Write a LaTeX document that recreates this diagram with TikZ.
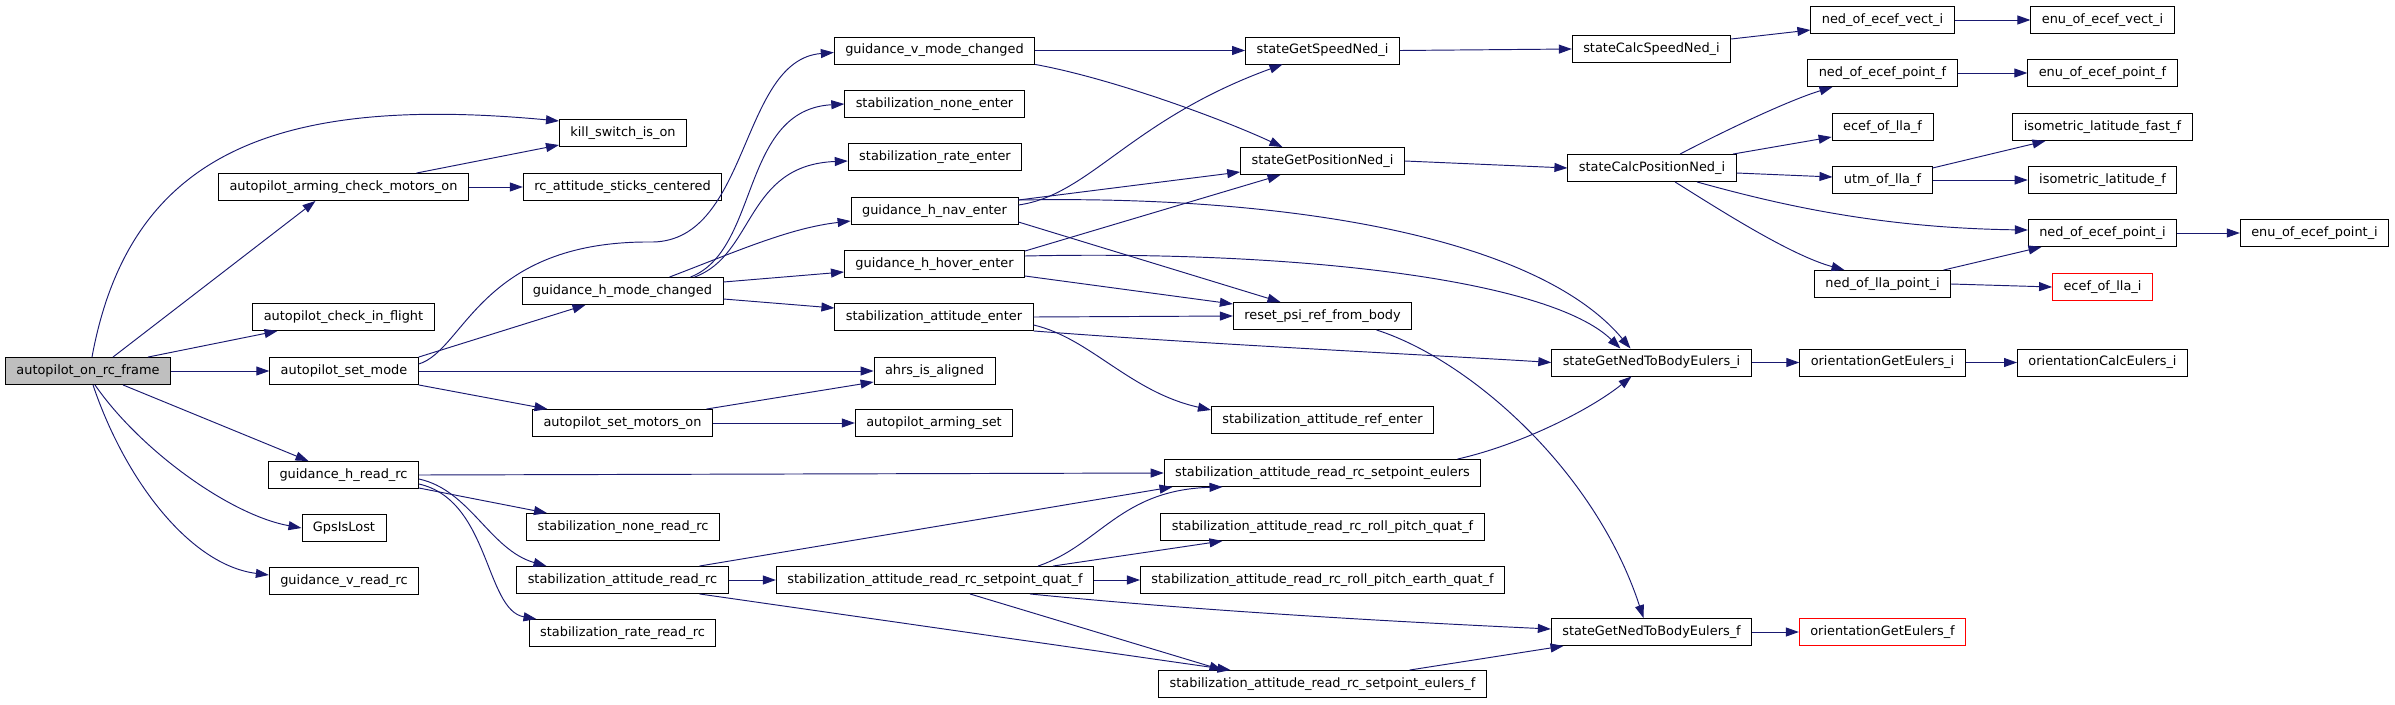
\documentclass[tikz,border=0pt]{standalone}
\usepackage{fontspec}
\setmainfont{DejaVu Sans}
\usetikzlibrary{arrows.meta}
\definecolor{midnight}{HTML}{191970}
\definecolor{rootgray}{HTML}{BFBFBF}
\definecolor{alert}{HTML}{FF0000}
\tikzset{
  fnbox/.style={draw=black,fill=white,line width=0.9pt,inner xsep=11pt,inner ysep=0pt,minimum height=27pt,font=\fontsize{12.9pt}{15pt}\selectfont},
  rootbox/.style={fnbox,fill=rootgray},
  extbox/.style={fnbox,draw=alert},
  call/.style={-{Triangle[length=13pt,width=9pt]},line width=0.95pt,draw=midnight}
}

\begin{document}
\begin{tikzpicture}[x=1pt,y=-1pt]
  \useasboundingbox (0,0) rectangle (2395,704);

  \node[rootbox] (root) at (88,371) {autopilot\_on\_rc\_frame};

  \node[fnbox] (armchk) at (343.5,187) {autopilot\_arming\_check\_motors\_on};
  \node[fnbox] (inflight) at (343.5,317) {autopilot\_check\_in\_flight};
  \node[fnbox] (setmode) at (344,371) {autopilot\_set\_mode};
  \node[fnbox] (hreadrc) at (343.5,475) {guidance\_h\_read\_rc};
  \node[fnbox] (gpslost) at (344,528) {GpsIsLost};
  \node[fnbox] (vreadrc) at (344,581) {guidance\_v\_read\_rc};

  \node[fnbox] (kill) at (623,133) {kill\_switch\_is\_on};
  \node[fnbox] (sticks) at (622.5,187) {rc\_attitude\_sticks\_centered};
  \node[fnbox] (hmode) at (622.5,291) {guidance\_h\_mode\_changed};
  \node[fnbox] (motorson) at (622.5,423) {autopilot\_set\_motors\_on};
  \node[fnbox] (noneread) at (623,527) {stabilization\_none\_read\_rc};
  \node[fnbox] (attread) at (622.5,580) {stabilization\_attitude\_read\_rc};
  \node[fnbox] (rateread) at (622.5,633) {stabilization\_rate\_read\_rc};

  \node[fnbox] (vmode) at (934.5,50.5) {guidance\_v\_mode\_changed};
  \node[fnbox] (noneenter) at (934.5,104) {stabilization\_none\_enter};
  \node[fnbox] (rateenter) at (935,157) {stabilization\_rate\_enter};
  \node[fnbox] (naventer) at (934.5,211) {guidance\_h\_nav\_enter};
  \node[fnbox] (hoverenter) at (934.5,264) {guidance\_h\_hover\_enter};
  \node[fnbox] (attenter) at (934,317) {stabilization\_attitude\_enter};
  \node[fnbox] (ahrs) at (934.5,371) {ahrs\_is\_aligned};
  \node[fnbox] (armset) at (934,423) {autopilot\_arming\_set};
  \node[fnbox] (quatf) at (935,580) {stabilization\_attitude\_read\_rc\_setpoint\_quat\_f};

  \node[fnbox] (speedned) at (1322.5,50.5) {stateGetSpeedNed\_i};
  \node[fnbox] (posned) at (1322.5,161) {stateGetPositionNed\_i};
  \node[fnbox] (resetpsi) at (1322.5,316) {reset\_psi\_ref\_from\_body};
  \node[fnbox] (attrefenter) at (1322.5,420) {stabilization\_attitude\_ref\_enter};
  \node[fnbox] (eulers) at (1322.5,473) {stabilization\_attitude\_read\_rc\_setpoint\_eulers};
  \node[fnbox] (rpquat) at (1322.5,527) {stabilization\_attitude\_read\_rc\_roll\_pitch\_quat\_f};
  \node[fnbox] (rpearth) at (1322.5,580) {stabilization\_attitude\_read\_rc\_roll\_pitch\_earth\_quat\_f};
  \node[fnbox] (eulersf) at (1322.5,684) {stabilization\_attitude\_read\_rc\_setpoint\_eulers\_f};

  \node[fnbox] (calcspeed) at (1651.5,49) {stateCalcSpeedNed\_i};
  \node[fnbox] (calcpos) at (1652,168) {stateCalcPositionNed\_i};
  \node[fnbox] (n2bei) at (1651.5,362.5) {stateGetNedToBodyEulers\_i};
  \node[fnbox] (n2bef) at (1651.5,632) {stateGetNedToBodyEulers\_f};

  \node[fnbox] (nedvect) at (1882.5,20) {ned\_of\_ecef\_vect\_i};
  \node[fnbox] (nedpointf) at (1882.5,73) {ned\_of\_ecef\_point\_f};
  \node[fnbox] (eceff) at (1882.5,127) {ecef\_of\_lla\_f};
  \node[fnbox] (utm) at (1882.5,180) {utm\_of\_lla\_f};
  \node[fnbox] (nedlla) at (1882.5,284) {ned\_of\_lla\_point\_i};
  \node[fnbox] (orienti) at (1882.5,362.5) {orientationGetEulers\_i};
  \node[extbox] (orientf) at (1882.5,632) {orientationGetEulers\_f};

  \node[fnbox] (enuvect) at (2102.5,20) {enu\_of\_ecef\_vect\_i};
  \node[fnbox] (enupointf) at (2102.5,73) {enu\_of\_ecef\_point\_f};
  \node[fnbox] (isofast) at (2102.5,127) {isometric\_latitude\_fast\_f};
  \node[fnbox] (iso) at (2102.5,180) {isometric\_latitude\_f};
  \node[fnbox] (nedpointi) at (2102.5,233) {ned\_of\_ecef\_point\_i};
  \node[extbox] (ecefi) at (2102.5,287) {ecef\_of\_lla\_i};
  \node[fnbox] (calceul) at (2102.5,362.5) {orientationCalcEulers\_i};

  \node[fnbox] (enupointi) at (2314.5,233) {enu\_of\_ecef\_point\_i};

  \draw[call] ([xshift=4pt]root.north) .. controls (130,150) and (280,95) .. ([yshift=12pt]kill.west);
  \draw[call] ([xshift=25pt]root.north) -- ([xshift=-28pt]armchk.south);
  \draw[call] ([xshift=60pt]root.north) -- ([xshift=-66pt]inflight.south);
  \draw[call] (root.east) -- (setmode.west);
  \draw[call] ([xshift=35pt]root.south) -- ([xshift=-35pt]hreadrc.north);
  \draw[call] ([xshift=7pt]root.south) .. controls (140,450) and (230,515) .. (gpslost.west);
  \draw[call] ([xshift=5pt]root.south) .. controls (125,480) and (190,565) .. ([yshift=6pt]vreadrc.west);

  \draw[call] ([xshift=73pt]armchk.north) -- ([yshift=-12pt]kill.west);
  \draw[call] (armchk.east) -- (sticks.west);

  \draw[call] (setmode.north east) -- ([xshift=-37pt]hmode.south);
  \draw[call] ([yshift=7pt]setmode.east) .. controls (465,350) and (480,240) .. (653,242)
    .. controls (750,240) and (740,60) .. ([yshift=-2pt]vmode.west);
  \draw[call] (setmode.east) -- (ahrs.west);
  \draw[call] (setmode.south east) -- ([xshift=-75pt]motorson.north);
  \draw[call] ([xshift=84pt]motorson.north) -- ([yshift=-11pt]ahrs.west);
  \draw[call] (motorson.east) -- (armset.west);

  \draw[call] ([xshift=68pt]hmode.north) .. controls (760,250) and (740,110) .. (noneenter.west);
  \draw[call] ([xshift=72pt]hmode.north) .. controls (755,255) and (745,165) .. ([yshift=-4pt]rateenter.west);
  \draw[call] ([xshift=47pt]hmode.north) .. controls (740,250) and (790,228) .. ([yshift=-10pt]naventer.west);
  \draw[call] ([yshift=9pt]hmode.east) -- ([yshift=-8pt]hoverenter.west);
  \draw[call] ([yshift=-8pt]hmode.east) -- ([yshift=9pt]attenter.west);

  \draw[call] (vmode.east) -- (speedned.west);
  \draw[call] (vmode.south east) .. controls (1110,78) and (1220,118) .. ([xshift=-40pt]posned.north);

  \draw[call] ([yshift=6pt]naventer.east) .. controls (1090,195) and (1130,120) .. ([xshift=-40pt]speedned.south);
  \draw[call] ([yshift=11pt]naventer.east) -- ([yshift=-11pt]posned.west);
  \draw[call] ([yshift=11pt]naventer.east) .. controls (1300,195) and (1540,240) .. ([xshift=-21pt]n2bei.north);
  \draw[call] ([yshift=-11pt]naventer.east) -- ([xshift=-42pt]resetpsi.north);

  \draw[call] ([yshift=13pt]hoverenter.east) -- ([xshift=-42pt]posned.south);
  \draw[call] ([yshift=8pt]hoverenter.east) .. controls (1300,250) and (1550,280) .. ([xshift=-31pt]n2bei.north);
  \draw[call] ([yshift=-12pt]hoverenter.east) -- ([yshift=12pt]resetpsi.west);

  \draw[call] (attenter.east) -- (resetpsi.west);
  \draw[call] (attenter.south east) .. controls (1200,344) and (1450,356) .. (n2bei.west);
  \draw[call] ([yshift=-8pt]attenter.east) .. controls (1090,338) and (1130,392) .. ([yshift=10pt]attrefenter.west);

  \draw[call] ([xshift=54pt]resetpsi.south) .. controls (1470,360) and (1595,470) .. ([xshift=-8pt]n2bef.north);

  \draw[call] (speedned.east) -- (calcspeed.west);
  \draw[call] (posned.east) -- (calcpos.west);
  \draw[call] ([yshift=10pt]calcspeed.east) -- ([yshift=-10pt]nedvect.west);
  \draw[call] (nedvect.east) -- (enuvect.west);

  \draw[call] ([xshift=28pt]calcpos.north) .. controls (1730,128) and (1790,100) .. ([xshift=-50pt]nedpointf.south);
  \draw[call] ([xshift=81pt]calcpos.north) -- ([yshift=-10pt]eceff.west);
  \draw[call] ([yshift=-5pt]calcpos.east) -- ([yshift=3pt]utm.west);
  \draw[call] ([xshift=45pt]calcpos.south) .. controls (1780,205) and (1880,228) .. ([yshift=3pt]nedpointi.west);
  \draw[call] ([xshift=23pt]calcpos.south) .. controls (1720,210) and (1790,255) .. ([xshift=-38pt]nedlla.north);

  \draw[call] (nedpointf.east) -- (enupointf.west);
  \draw[call] ([yshift=12pt]utm.east) -- ([xshift=-57pt]isofast.south);
  \draw[call] (utm.east) -- (iso.west);
  \draw[call] ([xshift=61pt]nedlla.north) -- ([xshift=-61pt]nedpointi.south);
  \draw[call] (nedlla.east) -- (ecefi.west);
  \draw[call] (nedpointi.east) -- (enupointi.west);

  \draw[call] (n2bei.east) -- (orienti.west);
  \draw[call] (orienti.east) -- (calceul.west);
  \draw[call] (n2bef.east) -- (orientf.west);

  \draw[call] (hreadrc.east) -- (eulers.west);
  \draw[call] ([yshift=-13pt]hreadrc.east) -- ([xshift=-76pt]noneread.north);
  \draw[call] ([yshift=-4pt]hreadrc.east) .. controls (470,490) and (490,550) .. ([xshift=-76pt]attread.north);
  \draw[call] ([yshift=-9pt]hreadrc.east) .. controls (490,500) and (485,610) .. ([xshift=-86pt]rateread.north);

  \draw[call] ([xshift=77pt]attread.north) -- ([xshift=-150pt]eulers.south);
  \draw[call] (attread.east) -- (quatf.west);
  \draw[call] ([xshift=77pt]attread.south) -- ([xshift=-92pt]eulersf.north);

  \draw[call] ([xshift=103pt]quatf.north) .. controls (1100,545) and (1120,490) .. ([xshift=-100pt]eulers.south);
  \draw[call] ([xshift=118pt]quatf.north) -- ([xshift=-100pt]rpquat.south);
  \draw[call] (quatf.east) -- (rpearth.west);
  \draw[call] ([xshift=95pt]quatf.south) .. controls (1200,611) and (1400,622) .. ([yshift=3pt]n2bef.west);
  \draw[call] ([xshift=35pt]quatf.south) -- ([xshift=-100pt]eulersf.north);

  \draw[call] ([xshift=87pt]eulersf.north) -- ([xshift=-88pt]n2bef.south);
  \draw[call] ([xshift=135pt]eulers.north) .. controls (1520,445) and (1590,410) .. ([xshift=-20pt]n2bei.south);
\end{tikzpicture}
\end{document}
